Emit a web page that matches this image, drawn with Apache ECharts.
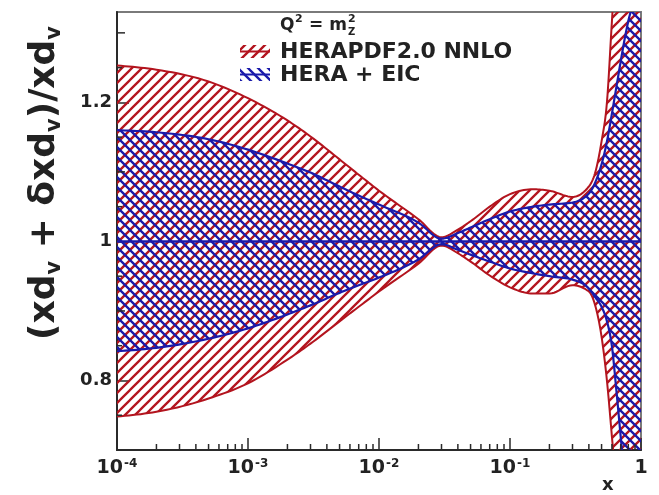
<!DOCTYPE html>
<html><head><meta charset="utf-8">
<script src="https://cdn.jsdelivr.net/npm/echarts@6/dist/echarts.min.js"></script>
<style>html,body{margin:0;padding:0;background:#fff}#c{width:659px;height:495px}</style>
</head><body><div id="c"></div>
<script>
// ---- data ----
const xs        = [1e-4, 2e-4, 5e-4, 1e-3, 2e-3, 3e-3, 5e-3, 7e-3, 1e-2, 2e-2, 3e-2, 4e-2, 5e-2, 7e-2, 0.1, 0.15, 0.2, 0.3, 0.4, 0.45, 0.5, 0.55, 0.6, 0.65, 0.7, 0.75, 0.8, 0.85, 0.9, 0.95, 1];
const redHigh   = [1.253, 1.247, 1.230, 1.206, 1.174, 1.151, 1.118, 1.096, 1.073, 1.032, 1.006, 1.017, 1.029, 1.050, 1.068, 1.075, 1.073, 1.064, 1.079, 1.101, 1.144, 1.201, 1.317, 1.42, 1.45, 1.45, 1.45, 1.45, 1.45, 1.45, 1.45];
const redLow    = [0.748, 0.755, 0.774, 0.796, 0.830, 0.853, 0.885, 0.906, 0.928, 0.968, 0.994, 0.983, 0.971, 0.951, 0.934, 0.925, 0.925, 0.937, 0.928, 0.906, 0.863, 0.799, 0.719, 0.64, 0.55, 0.55, 0.55, 0.55, 0.55, 0.55, 0.55];
const blueHigh  = [1.160, 1.157, 1.147, 1.132, 1.112, 1.099, 1.079, 1.066, 1.053, 1.027, 1.004, 1.012, 1.020, 1.032, 1.043, 1.050, 1.053, 1.056, 1.069, 1.086, 1.111, 1.144, 1.184, 1.223, 1.259, 1.291, 1.317, 1.338, 1.37, 1.40, 1.43];
const blueLow   = [0.842, 0.847, 0.860, 0.875, 0.895, 0.908, 0.926, 0.937, 0.948, 0.974, 0.996, 0.988, 0.981, 0.971, 0.961, 0.954, 0.950, 0.945, 0.932, 0.919, 0.906, 0.885, 0.849, 0.784, 0.719, 0.655, 0.60, 0.57, 0.57, 0.57, 0.57];
const centerX   = [1e-4, 1];
const centerY   = [1, 1];
const xTickExps   = [-4, -3, -2, -1, 0];
const xTickLabels = ['{b|10}{s|-4}', '{b|10}{s|-3}', '{b|10}{s|-2}', '{b|10}{s|-1}', '{b|1}'];
const xMinorTicks = [2e-4,3e-4,4e-4,5e-4,6e-4,7e-4,8e-4,9e-4, 2e-3,3e-3,4e-3,5e-3,6e-3,7e-3,8e-3,9e-3, 2e-2,3e-2,4e-2,5e-2,6e-2,7e-2,8e-2,9e-2, 0.2,0.3,0.4,0.5,0.6,0.7,0.8,0.9];
const yTickValues = [0.8, 1, 1.2];
const yMidTicks   = [0.9, 1.1, 1.3];
const ySmallTicks = [0.75, 0.85, 0.95, 1.05, 1.15, 1.25];
const seriesNames = ['HERAPDF2.0 NNLO', 'HERA + EIC'];

const X_MIN = 1e-4, X_MAX = 1, Y_MIN = 0.7, Y_MAX = 1.33;
const RED = '#b3141e', BLUE = '#1a1aaa', AX = '#2a2a2a', TXT = '#222';
const FONT = '"DejaVu Sans", sans-serif';

function hatch(color, dir, size, w) {
  const c = document.createElement('canvas');
  c.width = size; c.height = size;
  const g = c.getContext('2d');
  g.strokeStyle = color; g.lineWidth = w; g.lineCap = 'square';
  g.beginPath();
  for (let k = -1; k <= 1; k++) {
    if (dir > 0) { g.moveTo(k * size, size); g.lineTo(k * size + size, 0); }
    else { g.moveTo(k * size, 0); g.lineTo(k * size + size, size); }
  }
  g.stroke();
  return c;
}
const redPat = hatch(RED, 1, 10, 2.3);
const bluePat = hatch(BLUE, -1, 10, 2.3);

// monotone cubic rendering of pixel points (drawing only)
function sgn(v) { return v < 0 ? -1 : 1; }
function smoothPix(p, steps) {
  const n = p.length, t = new Array(n);
  for (let i = 1; i < n - 1; i++) {
    const h0 = p[i][0] - p[i - 1][0], h1 = p[i + 1][0] - p[i][0];
    const s0 = (p[i][1] - p[i - 1][1]) / h0, s1 = (p[i + 1][1] - p[i][1]) / h1;
    const q = (s0 * h1 + s1 * h0) / (h0 + h1);
    t[i] = (sgn(s0) + sgn(s1)) * Math.min(Math.abs(s0), Math.abs(s1), 0.5 * Math.abs(q)) || 0;
  }
  const hA = p[1][0] - p[0][0];
  t[0] = (3 * (p[1][1] - p[0][1]) / hA - t[1]) / 2;
  const hB = p[n - 1][0] - p[n - 2][0];
  t[n - 1] = (3 * (p[n - 1][1] - p[n - 2][1]) / hB - t[n - 2]) / 2;
  const out = [];
  for (let i = 0; i < n - 1; i++) {
    const x0 = p[i][0], y0 = p[i][1], x1 = p[i + 1][0], y1 = p[i + 1][1];
    const dx = (x1 - x0) / 3;
    const c1x = x0 + dx, c1y = y0 + dx * t[i], c2x = x1 - dx, c2y = y1 - dx * t[i + 1];
    for (let k = 0; k < steps; k++) {
      const u = k / steps, a = 1 - u;
      out.push([a*a*a*x0 + 3*a*a*u*c1x + 3*a*u*u*c2x + u*u*u*x1,
                a*a*a*y0 + 3*a*a*u*c1y + 3*a*u*u*c2y + u*u*u*y1]);
    }
  }
  out.push(p[n - 1].slice());
  return out;
}

function bandItem(lo, hi, pat, color, lw) {
  return function (params, api) {
    if (params.dataIndex !== 0) return null;
    const up = [], dn = [];
    for (let i = 0; i < xs.length; i++) {
      up.push(api.coord([xs[i], hi[i]]));
      dn.push(api.coord([xs[i], lo[i]]));
    }
    const upS = smoothPix(up, 10), dnS = smoothPix(dn, 10);
    const poly = upS.concat(dnS.slice().reverse());
    return {
      type: 'group', children: [
        { type: 'polygon', shape: { points: poly }, style: { fill: { image: pat, repeat: 'repeat' }, stroke: null } },
        { type: 'polyline', shape: { points: upS }, style: { stroke: color, lineWidth: lw, fill: null, lineJoin: 'round' } },
        { type: 'polyline', shape: { points: dnS }, style: { stroke: color, lineWidth: lw, fill: null, lineJoin: 'round' } }
      ]
    };
  };
}
function tickSeries(rows, horizontal, len) {
  return {
    type: 'custom', silent: true, z: 6, clip: false,
    data: rows, encode: { x: 0, y: 1 },
    renderItem: function (params, api) {
      const c = api.coord([api.value(0), api.value(1)]);
      const shape = horizontal ? { x1: c[0], y1: c[1], x2: c[0] + len, y2: c[1] }
                               : { x1: c[0], y1: c[1], x2: c[0], y2: c[1] - len };
      return { type: 'line', shape: shape, style: { stroke: AX, lineWidth: 1.5 } };
    }
  };
}

// text measuring for the Q^2 = m_Z^2 label
const mctx = document.createElement('canvas').getContext('2d');
function tw(txt, size) { mctx.font = 'bold ' + size + 'px ' + FONT; return mctx.measureText(txt).width; }
const QX = 280, QY = 26, QS = 17, QSS = 11;
const q1 = tw('Q', QS), q2 = tw('2', QSS), q3 = tw(' = m', QS);

const chart = echarts.init(document.getElementById('c'), null, { renderer: 'canvas' });
const option = {
  animation: false,
  backgroundColor: '#fff',
  grid: { left: 117, right: 18, top: 12, bottom: 45, show: true, borderColor: '#7a7a7a', borderWidth: 2, backgroundColor: 'transparent' },
  xAxis: {
    type: 'log', logBase: 10, min: X_MIN, max: X_MAX,
    axisLine: { show: true, lineStyle: { color: AX, width: 2 } },
    axisTick: { show: true, inside: true, length: 12, lineStyle: { color: AX, width: 1.5 } },
    splitLine: { show: false },
    axisLabel: {
      show: true, margin: 8, showMinLabel: true, showMaxLabel: true,
      formatter: function (v) { const e = Math.round(Math.log10(v)); const i = xTickExps.indexOf(e); return i >= 0 ? xTickLabels[i] : ''; },
      rich: {
        b: { fontFamily: FONT, fontWeight: 'bold', fontSize: 19, color: TXT, verticalAlign: 'bottom', lineHeight: 20 },
        s: { fontFamily: FONT, fontWeight: 'bold', fontSize: 12, color: TXT, verticalAlign: 'top', lineHeight: 12, padding: [0, 0, 10, 1] }
      }
    }
  },
  yAxis: {
    type: 'value', min: Y_MIN, max: Y_MAX,
    axisLine: { show: true, lineStyle: { color: AX, width: 2 } },
    axisTick: { show: true, inside: true, length: 12, customValues: yTickValues, lineStyle: { color: AX, width: 1.5 } },
    splitLine: { show: false },
    axisLabel: { customValues: yTickValues, fontFamily: FONT, fontWeight: 'bold', fontSize: 18, color: TXT, margin: 5 }
  },
  series: [
    { name: seriesNames[0], type: 'custom', z: 2, clip: true, silent: true,
      data: xs.map((x, i) => [x, redLow[i], redHigh[i]]), encode: { x: 0, y: [1, 2] },
      renderItem: bandItem(redLow, redHigh, redPat, RED, 2) },
    { name: seriesNames[1], type: 'custom', z: 3, clip: true, silent: true,
      data: xs.map((x, i) => [x, blueLow[i], blueHigh[i]]), encode: { x: 0, y: [1, 2] },
      renderItem: bandItem(blueLow, blueHigh, bluePat, BLUE, 2.2) },
    { type: 'line', z: 4, silent: true, symbol: 'none', data: centerX.map((x, i) => [x, centerY[i]]),
      lineStyle: { color: BLUE, width: 2.5 } },
    tickSeries(xMinorTicks.map(v => [v, Y_MIN]), false, 6),
    tickSeries(yMidTicks.map(v => [X_MIN, v]), true, 8),
    tickSeries(ySmallTicks.map(v => [X_MIN, v]), true, 5)
  ],
  graphic: [
    { type: 'text', x: 46, y: 183, rotation: Math.PI / 2, z: 10,
      style: { text: '{m|(xd}{s|v}{m| + δxd}{s|v}{m|)/xd}{s|v}', align: 'center', verticalAlign: 'middle',
        rich: {
          m: { fontFamily: FONT, fontWeight: 'bold', fontSize: 36, fill: TXT, verticalAlign: 'top', lineHeight: 38 },
          s: { fontFamily: FONT, fontWeight: 'bold', fontSize: 21, fill: TXT, verticalAlign: 'bottom', lineHeight: 21, padding: [27, 0, 0, 0] }
        } } },
    { type: 'group', z: 10, children: [
      { type: 'text', x: QX, y: QY, style: { text: 'Q', font: 'bold ' + QS + 'px ' + FONT, fill: TXT, verticalAlign: 'middle' } },
      { type: 'text', x: QX + q1 + 0.5, y: QY - 7, style: { text: '2', font: 'bold ' + QSS + 'px ' + FONT, fill: TXT, verticalAlign: 'middle' } },
      { type: 'text', x: QX + q1 + q2 + 1, y: QY, style: { text: ' = m', font: 'bold ' + QS + 'px ' + FONT, fill: TXT, verticalAlign: 'middle' } },
      { type: 'text', x: QX + q1 + q2 + q3 + 2, y: QY - 7, style: { text: '2', font: 'bold ' + QSS + 'px ' + FONT, fill: TXT, verticalAlign: 'middle' } },
      { type: 'text', x: QX + q1 + q2 + q3 + 2, y: QY + 6, style: { text: 'Z', font: 'bold ' + (QSS - 1) + 'px ' + FONT, fill: TXT, verticalAlign: 'middle' } },
      { type: 'rect', shape: { x: 240, y: 45, width: 30, height: 13 }, style: { fill: { image: redPat, repeat: 'repeat' } } },
      { type: 'line', shape: { x1: 240, y1: 51.5, x2: 270, y2: 51.5 }, style: { stroke: RED, lineWidth: 2 } },
      { type: 'text', x: 280, y: 52, style: { text: seriesNames[0], font: 'bold 22px ' + FONT, fill: TXT, verticalAlign: 'middle' } },
      { type: 'rect', shape: { x: 240, y: 68, width: 30, height: 13 }, style: { fill: { image: bluePat, repeat: 'repeat' } } },
      { type: 'line', shape: { x1: 240, y1: 74.5, x2: 270, y2: 74.5 }, style: { stroke: BLUE, lineWidth: 2 } },
      { type: 'text', x: 280, y: 75, style: { text: seriesNames[1], font: 'bold 22px ' + FONT, fill: TXT, verticalAlign: 'middle' } }
    ] },
    { type: 'text', x: 602, y: 485, z: 10, style: { text: 'x', font: 'bold 18px ' + FONT, fill: TXT, verticalAlign: 'middle' } }
  ]
};
chart.setOption(option);
</script>
</body></html>
